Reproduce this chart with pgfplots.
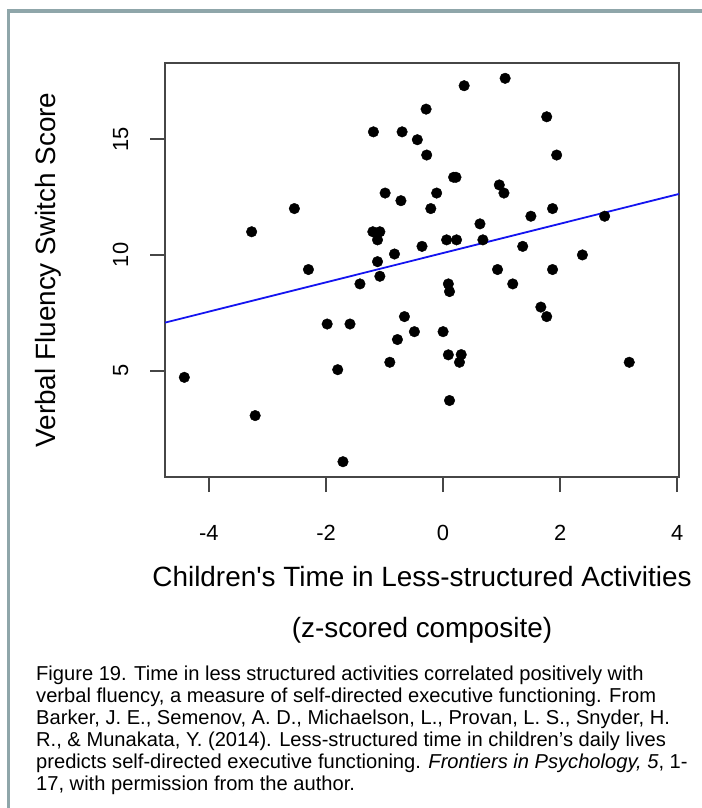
\documentclass[border=0pt]{standalone}
\usepackage{fontspec}
\setmainfont{Liberation Sans}
\newfontfamily\Rfont{Liberation Sans}
\usepackage{pgfplots}
\pgfplotsset{compat=1.18}
\definecolor{framecol}{RGB}{143,166,170}
\definecolor{boxcol}{RGB}{70,70,70}
\definecolor{fitblue}{RGB}{20,20,240}
\begin{document}
\begin{tikzpicture}[x=1bp,y=1bp]
\useasboundingbox (0,0) rectangle (702,-808);
\fill[white] (0,0) rectangle (702,-808);
\draw[framecol, line width=3.5bp] (8.5,-808) -- (8.5,-11) -- (702,-11);
\begin{axis}[
  at={(165bp,-477bp)}, anchor=south west,
  scale only axis, width=514bp, height=414bp,
  xmin=-4.75, xmax=4.03, ymin=0.42, ymax=18.28,
  axis line style={boxcol, line width=1.8bp},
  tick style={boxcol, line width=1.6bp},
  tick align=outside, major tick length=15bp,
  xtick pos=bottom, ytick pos=left,
  xtick={-4,-2,0,2,4}, xticklabels={-4,-2,0,2,4},
  ytick={5,10,15}, yticklabels={5,10,15},
  xticklabel style={font=\Rfont\fontsize{22}{22}\selectfont, anchor=base, yshift=-48bp},
  yticklabel style={font=\Rfont\fontsize{22}{22}\selectfont, xshift=-22bp, rotate=90, anchor=base},
  clip=false,
]
\addplot[only marks, mark=*, mark size=5.3bp, mark options={fill=black, draw=black}] coordinates {
(-0.29,16.29) (-1.19,15.31) (-0.70,15.31) (-0.44,14.97) (-0.28,14.31)
(-0.99,12.67) (-0.72,12.34) (-0.21,12.0) (-2.54,12.0) (-3.27,11.0)
(-1.20,11.0) (-1.08,11.0) (-1.12,10.65) (-0.36,10.37) (-0.83,10.04)
(-1.12,9.71) (-2.30,9.37) (-1.08,9.08) (1.06,17.62) (0.36,17.30)
(1.77,15.96) (1.94,14.31) (0.18,13.35) (0.22,13.35) (0.96,13.02)
(1.04,12.67) (-0.11,12.67) (1.87,12.0) (0.63,11.34) (1.50,11.67)
(2.76,11.67) (0.06,10.65) (0.23,10.65) (0.68,10.65) (1.36,10.37)
(2.38,10.0) (0.93,9.37) (1.87,9.37) (-1.42,8.75) (-0.66,7.34)
(-1.98,7.02) (-1.59,7.02) (-0.49,6.69) (-0.78,6.35) (-0.91,5.37)
(-1.80,5.05) (-4.42,4.72) (-3.21,3.07) (-1.71,1.08) (1.19,8.75)
(0.09,8.75) (0.11,8.42) (1.67,7.75) (1.77,7.34) (0.0,6.69)
(0.09,5.69) (0.31,5.70) (0.28,5.37) (3.18,5.37) (0.11,3.72)
};
\addplot[fitblue, line width=1.8bp] coordinates {(-4.75,7.08) (4.03,12.63)};
\end{axis}
\node[font=\Rfont\fontsize{28}{28}\selectfont, rotate=90, anchor=base] at (55.5,-270) {Verbal Fluency Switch Score};
\node[font=\Rfont\fontsize{28}{28}\selectfont, anchor=base] at (422,-586) {Children's Time in Less-structured Activities};
\node[font=\Rfont\fontsize{28}{28}\selectfont, anchor=base] at (422,-637) {(z-scored composite)};
\begin{scope}[every node/.style={font=\fontsize{20.2}{22}\selectfont, anchor=base west, inner sep=0pt}]
\node at (36,-680) {Figure 19. Time in less structured activities correlated positively with};
\node at (36,-702) {verbal fluency, a measure of self-directed executive functioning. From};
\node at (36,-724) {Barker, J. E., Semenov, A. D., Michaelson, L., Provan, L. S., Snyder, H.};
\node at (36,-746) {R., \& Munakata, Y. (2014). Less-structured time in children’s daily lives};
\node at (36,-768) {predicts self-directed executive functioning. \textit{Frontiers in Psychology, 5}, 1-};
\node at (36,-790) {17, with permission from the author.};
\end{scope}
\end{tikzpicture}
\end{document}
